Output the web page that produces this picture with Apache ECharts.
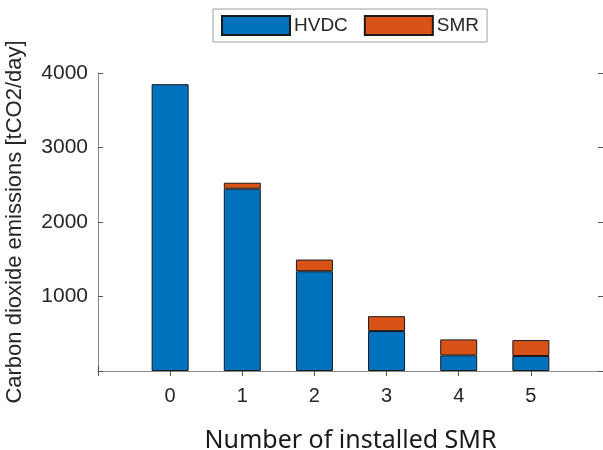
<!DOCTYPE html>
<html><head><meta charset="utf-8">
<script src="https://cdn.jsdelivr.net/npm/echarts@6/dist/echarts.min.js"></script>
<style>html,body{margin:0;padding:0;background:#fff}#c{width:603px;height:450px}</style>
</head><body><div id="c"></div>
<script>
var categories = ['-1','0','1','2','3','4','5','6'];
var hvdc = [null, 3850, 2447, 1339, 536, 210, 201, null];
var smr  = [null, null, 80, 157, 200, 214, 214, null];
var yTicks = [0, 1000, 2000, 3000, 4000];
var legendNames = ['HVDC', 'SMR'];

var chart = echarts.init(document.getElementById('c'), null, {renderer: 'canvas'});
var axisCol = '#8a8a8a';
var txtCol = '#262626';
var font = 'Liberation Sans';
chart.setOption({
  animation: false,
  textStyle: {fontFamily: font},
  legend: {
    data: legendNames, left: 213, top: 9,
    itemWidth: 68, itemHeight: 19, itemGap: 16,
    padding: [6, 8, 6, 8],
    borderColor: '#a0a0a0', borderWidth: 1,
    icon: 'rect',
    textStyle: {fontSize: 19, color: txtCol, fontFamily: font, padding: [0, 0, 0, -1]}
  },
  grid: {left: 98, right: 0, top: 73, bottom: 79, containLabel: false, outerBoundsMode: 'none'},
  xAxis: [{
    type: 'category', data: categories, boundaryGap: false,
    axisLine: {lineStyle: {color: axisCol}},
    axisTick: {inside: true, length: 5, lineStyle: {color: '#444'}},
    axisLabel: {fontSize: 20, color: txtCol, margin: 15,
      formatter: function (v) { return (v === '-1' || v === '6') ? '' : v; }},
    name: 'Number of installed SMR', nameLocation: 'middle', nameGap: 57,
    nameTextStyle: {fontSize: 25, color: '#1a1a1a', fontFamily: 'Noto Sans'},
    splitLine: {show: false}
  }, {
    type: 'category', data: categories, boundaryGap: false, position: 'top',
    axisLine: {lineStyle: {color: axisCol}},
    axisTick: {inside: true, length: 5, lineStyle: {color: '#555'}},
    axisLabel: {show: false}
  }],
  yAxis: [{
    type: 'value', min: yTicks[0], max: yTicks[yTicks.length - 1], interval: 1000,
    axisLine: {show: true, lineStyle: {color: axisCol}},
    axisTick: {show: true, inside: true, length: 5, lineStyle: {color: '#555'}},
    axisLabel: {fontSize: 21, color: txtCol, margin: 10,
      formatter: function (v) { return v === 0 ? '' : String(v); }},
    splitLine: {show: false},
    name: 'Carbon dioxide emissions [tCO2/day]', nameLocation: 'middle', nameGap: 72,
    nameTextStyle: {fontSize: 22, color: txtCol}
  }, {
    type: 'value', min: yTicks[0], max: yTicks[yTicks.length - 1], interval: 1000,
    position: 'right',
    axisLine: {show: true, lineStyle: {color: axisCol}},
    axisTick: {show: true, inside: true, length: 5, lineStyle: {color: '#555'}},
    axisLabel: {show: false}, splitLine: {show: false}
  }],
  series: [{
    name: legendNames[0], type: 'bar', stack: 'total', data: hvdc, barWidth: 37,
    itemStyle: {color: '#0072BD', borderColor: '#1a1a1a', borderWidth: 1}
  }, {
    name: legendNames[1], type: 'bar', stack: 'total', data: smr, barWidth: 37,
    itemStyle: {color: '#D95319', borderColor: '#1a1a1a', borderWidth: 1}
  }]
});
</script></body></html>
